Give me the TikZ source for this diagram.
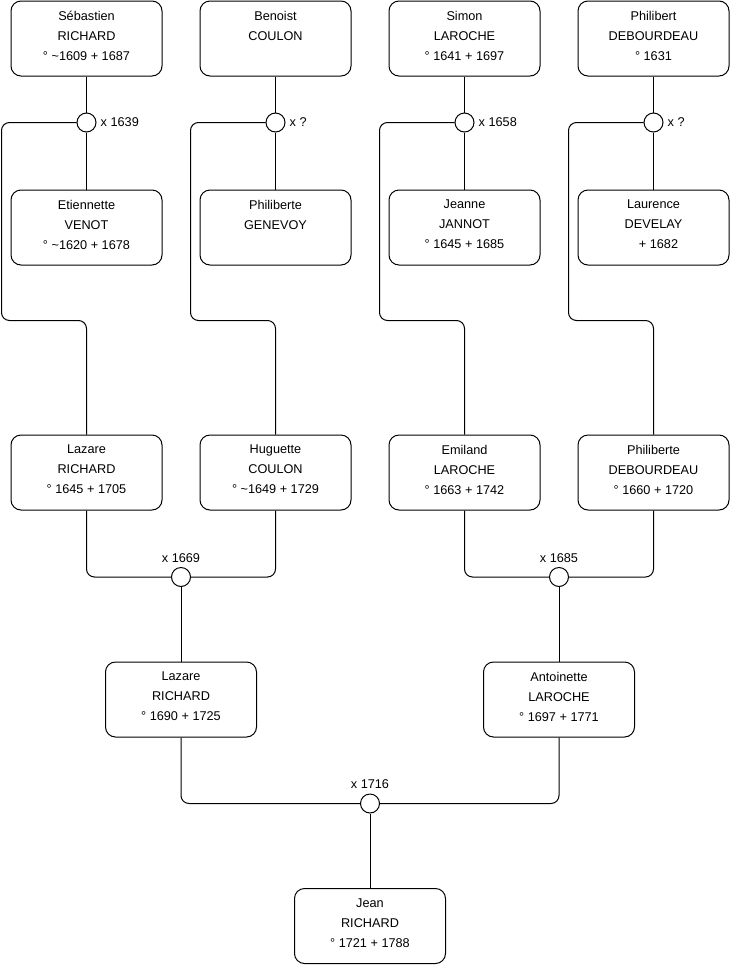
\documentclass[tikz,border=0pt]{standalone}
\usepackage{fontspec}
\setmainfont{Liberation Sans}
\usetikzlibrary{positioning, calc}
\tikzset{
  pbox/.style={draw, line width=1pt, rounded corners=10pt, fill=white, align=center,
    minimum width=151pt, minimum height=75pt, inner sep=0pt,
    font=\fontsize{12.7}{20}\selectfont,
    execute at begin node=\strut, execute at end node=\strut},
  ring/.style={draw, circle, line width=1pt, fill=white, minimum size=19pt, inner sep=0pt},
  mlabel/.style={inner sep=0pt, font=\fontsize{12.7}{14}\selectfont},
  link/.style={line width=1pt, rounded corners=8pt},
}

\begin{document}
\begin{tikzpicture}[x=1pt, y=1pt, node distance=37pt]
    \useasboundingbox (0,0) rectangle (740,-975);
    \node[pbox] (sebastien) at (86.5,-38.5) {Sébastien\\RICHARD\\° \textasciitilde1609 + 1687};
    \node[pbox, right=of sebastien] (benoist) {Benoist\\COULON\\};
    \node[pbox, right=of benoist] (simon) {Simon\\LAROCHE\\° 1641 + 1697};
    \node[pbox, right=of simon] (philibert) {Philibert\\DEBOURDEAU\\° 1631};
    \node[pbox, below=113pt of sebastien] (etiennette) {Etiennette\\VENOT\\° \textasciitilde1620 + 1678};
    \node[pbox, below=113pt of benoist] (genevoy) {Philiberte\\GENEVOY\\};
    \node[pbox, below=113pt of simon] (jeanne) {Jeanne\\JANNOT\\° 1645 + 1685};
    \node[pbox, below=113pt of philibert] (laurence) {Laurence\\DEVELAY\\\hspace*{10pt}+ 1682};
    \node[ring, below=36pt of sebastien] (m1639) {};
    \node[ring, below=36pt of benoist] (mcoulon) {};
    \node[ring, below=36pt of simon] (m1658) {};
    \node[ring, below=36pt of philibert] (mdebourdeau) {};
    \node[mlabel, right=4pt of m1639] (t1639) {x 1639};
    \node[mlabel, right=4pt of mcoulon] (tcoulon) {x ?};
    \node[mlabel, right=4pt of m1658] (t1658) {x 1658};
    \node[mlabel, right=4pt of mdebourdeau] (tdebourdeau) {x ?};
    \node[pbox, below=169pt of etiennette] (lazare) {Lazare\\RICHARD\\° 1645 + 1705};
    \node[pbox, below=169pt of genevoy] (huguette) {Huguette\\COULON\\° \textasciitilde1649 + 1729};
    \node[pbox, below=169pt of jeanne] (emiland) {Emiland\\LAROCHE\\° 1663 + 1742};
    \node[pbox, below=169pt of laurence] (philiberte) {Philiberte\\DEBOURDEAU\\° 1660 + 1720};
    \node[ring] (m1669) at ($(lazare.south)!0.5!(huguette.south)+(0,-66.5)$) {};
    \node[ring] (m1685) at ($(emiland.south)!0.5!(philiberte.south)+(0,-66.5)$) {};
    \node[mlabel, above=4.5pt of m1669] (t1669) {x 1669};
    \node[mlabel, above=4.5pt of m1685] (t1685) {x 1685};
    \node[pbox, below=74.5pt of m1669] (lazaretwo) {Lazare\\RICHARD\\° 1690 + 1725};
    \node[pbox, below=74.5pt of m1685] (antoinette) {Antoinette\\LAROCHE\\° 1697 + 1771};
    \node[ring] (m1716) at ($(lazaretwo.south)!0.5!(antoinette.south)+(0,-66)$) {};
    \node[mlabel, above=4.5pt of m1716] (t1716) {x 1716};
    \node[pbox, below=74.5pt of m1716] (jean) {Jean\\RICHARD\\° 1721 + 1788};
    \foreach \a/\r/\b in {sebastien/m1639/etiennette, benoist/mcoulon/genevoy,
                          simon/m1658/jeanne, philibert/mdebourdeau/laurence}
      \draw[link] (\a) -- (\r) -- (\b);
    \foreach \r/\c in {m1639/lazare, mcoulon/huguette, m1658/emiland, mdebourdeau/philiberte}
      \draw[link] (\r.west) -- ++(-75,0) |- ($(\c.north)+(0,114)$) -- (\c.north);
    \foreach \a/\b/\r/\c in {lazare/huguette/m1669/lazaretwo, emiland/philiberte/m1685/antoinette,
                             lazaretwo/antoinette/m1716/jean} {
      \draw[link] (\a.south) |- (\r.west);
      \draw[link] (\b.south) |- (\r.east);
      \draw[link] (\r) -- (\c);
    }
  \end{tikzpicture}
\end{document}
